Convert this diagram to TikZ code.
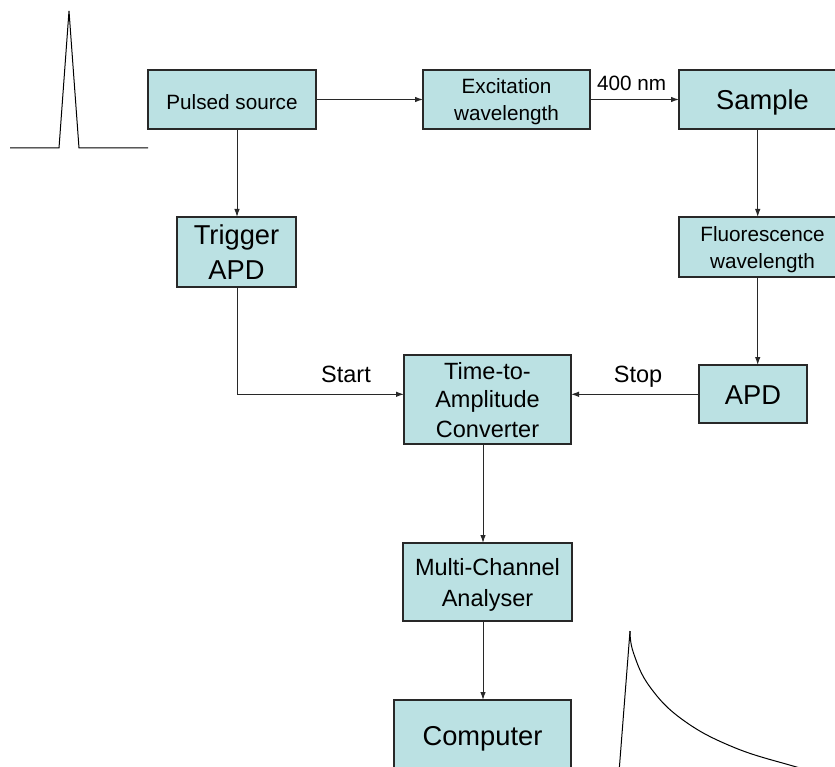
\documentclass[tikz,border=0pt]{standalone}
\usepackage{fontspec}
\setmainfont{Liberation Sans}
\usetikzlibrary{arrows.meta}
\definecolor{boxfill}{RGB}{187,225,227}
\definecolor{edgec}{RGB}{40,40,40}
\newcommand\cs[1][1.25em]{\rule[-0.25em]{0pt}{#1}}
\tikzset{
  blk/.style={draw=edgec, line width=1.3pt, fill=boxfill, align=center, inner sep=0pt, outer sep=0pt},
  conn/.style={draw=edgec, line width=1pt, -{Latex[length=8pt,width=5.5pt]}},
  curve/.style={draw=black, line width=1pt, line join=miter},
  fs/.style={font=\fontsize{20.7}{25}\selectfont},
  fm/.style={font=\fontsize{23.5}{28}\selectfont},
  fl/.style={font=\fontsize{27.3}{33}\selectfont},
}
\begin{document}
\begin{tikzpicture}[x=1pt,y=-1pt]
\useasboundingbox (0,0) rectangle (835,767);
\clip (0,0) rectangle (835,767);
% boxes
\node[blk,fs,minimum width=168pt,minimum height=59pt] (src) at (232,99.5) {\cs[1.5em]Pulsed source\cs};
\node[blk,fs,minimum width=167pt,minimum height=59pt] (exc) at (506.5,99.5) {\cs Excitation\\wavelength\cs};
\node[blk,fl,minimum width=167pt,minimum height=59pt] (smp) at (762.5,99.5) {\cs Sample\cs};
\node[blk,fl,minimum width=119pt,minimum height=70pt] (trg) at (236.5,252) {\cs Trigger\\APD\cs};
\node[blk,fs,minimum width=167pt,minimum height=60pt] (flu) at (762.5,247) {\cs Fluorescence\\wavelength\cs};
\node[blk,fl,minimum width=108pt,minimum height=58pt] (apd) at (753,394) {\cs APD\cs};
\node[blk,fm,minimum width=167pt,minimum height=89pt] (tac) at (487.5,399.5) {\cs Time-to-\\Amplitude\\Converter\cs};
\node[blk,fm,minimum width=169pt,minimum height=78pt] (mca) at (487.5,582) {\cs Multi-Channel\\Analyser\cs};
\node[blk,fl,minimum width=177pt,minimum height=70pt] (cmp) at (482.5,735) {\cs Computer\cs};
% helper coordinates
\coordinate (colL) at (237,0);
\coordinate (colR) at (757.7,0);
\coordinate (colM) at (483,0);
\coordinate (rowS) at (0,394.3);
% connectors
\draw[conn] (src.east) -- (exc.west);
\draw[conn] (exc.east) -- (smp.west);
\draw[conn] (src.south -| colL) -- (trg.north -| colL);
\draw[conn] (smp.south -| colR) -- (flu.north -| colR);
\draw[conn] (flu.south -| colR) -- (apd.north -| colR);
\draw[conn] (trg.south -| colL) |- (tac.west |- rowS);
\draw[conn] (apd.west |- rowS) -- (tac.east |- rowS);
\draw[conn] (tac.south -| colM) -- (mca.north -| colM);
\draw[conn] (mca.south -| colM) -- (cmp.north -| colM);
% labels
\node[fs,anchor=base,inner sep=0pt] (nm) at (631.7,91) {400 nm};
\node[fm,anchor=base,inner sep=0pt] (start) at (346,382) {Start};
\node[fm,anchor=base,inner sep=0pt] (stop) at (638,382) {Stop};
% pulse
\draw[curve] (10,148) -- (59,148) -- (69,11) -- (79,148) -- (148,148);
% decay
\draw[curve] (618.8,775) -- (630,631);
\draw[curve] plot[smooth,tension=0.7] coordinates {(630,631) (633.5,653) (650,687) (683,720) (733,747) (793,766) (835,777)};
\end{tikzpicture}
\end{document}
